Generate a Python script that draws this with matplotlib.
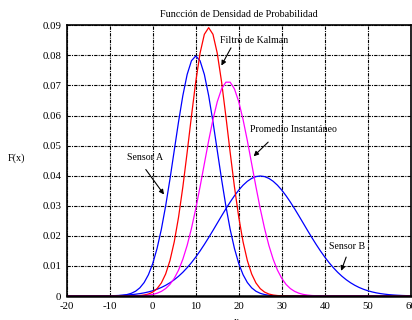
import matplotlib
matplotlib.use("Agg")
import matplotlib.pyplot as plt
import numpy as np

plt.rcParams['font.family'] = ['Liberation Serif', 'DejaVu Serif']

x_vals = list(range(-20, 61))

sensor_a = [0]*9 + [
    0.00001, 0.00003, 0.00006, 0.00012, 0.00025, 0.00048, 0.00089, 0.00158, 0.00272, 0.00448,
    0.00709, 0.01080, 0.01579, 0.02218, 0.02995, 0.03884, 0.04839, 0.05794, 0.06664, 0.07365,
    0.07821, 0.07979, 0.07821, 0.07365, 0.06664, 0.05794, 0.04839, 0.03884, 0.02995, 0.02218,
    0.01579, 0.01080, 0.00709, 0.00448, 0.00272, 0.00158, 0.00089, 0.00048, 0.00025, 0.00012,
    0.00006, 0.00003, 0.00001] + [0]*29

sensor_b = [0, 0, 0,
    0.00001, 0.00001, 0.00001, 0.00002, 0.00003, 0.00004, 0.00006, 0.00009, 0.00012, 0.00017,
    0.00024, 0.00033, 0.00044, 0.00060, 0.00079, 0.00104, 0.00136, 0.00175, 0.00224, 0.00283,
    0.00355, 0.00440, 0.00540, 0.00656, 0.00789, 0.00941, 0.01109, 0.01295, 0.01497, 0.01714,
    0.01942, 0.02178, 0.02420, 0.02661, 0.02897, 0.03123, 0.03332, 0.03521, 0.03683, 0.03814,
    0.03910, 0.03970, 0.03989, 0.03970, 0.03910, 0.03814, 0.03683, 0.03521, 0.03332, 0.03123,
    0.02897, 0.02661, 0.02420, 0.02178, 0.01942, 0.01714, 0.01497, 0.01295, 0.01109, 0.00941,
    0.00789, 0.00656, 0.00540, 0.00440, 0.00355, 0.00283, 0.00224, 0.00175, 0.00136, 0.00104,
    0.00079, 0.00060, 0.00044, 0.00033, 0.00024, 0.00017, 0.00012, 0.00009]

kalman = [0]*14 + [
    0.00001, 0.00003, 0.00007, 0.00015, 0.00032, 0.00066, 0.00130, 0.00244, 0.00433, 0.00732,
    0.01177, 0.01801, 0.02621, 0.03627, 0.04775, 0.05980, 0.07123, 0.08072, 0.08700, 0.08921,
    0.08700, 0.08072, 0.07123, 0.05980, 0.04775, 0.03627, 0.02621, 0.01801, 0.01177, 0.00732,
    0.00433, 0.00244, 0.00130, 0.00066, 0.00032, 0.00015, 0.00007, 0.00003, 0.00001] + [0]*28

promedio = [0]*14 + [
    0.00001, 0.00002, 0.00004, 0.00009, 0.00016, 0.00030, 0.00053, 0.00092, 0.00153, 0.00247,
    0.00386, 0.00586, 0.00860, 0.01223, 0.01684, 0.02246, 0.02902, 0.03630, 0.04398, 0.05162,
    0.05866, 0.06457, 0.06884, 0.07108, 0.07108, 0.06884, 0.06457, 0.05866, 0.05162, 0.04398,
    0.03630, 0.02902, 0.02246, 0.01684, 0.01223, 0.00860, 0.00586, 0.00386, 0.00247, 0.00153,
    0.00092, 0.00053, 0.00030, 0.00016, 0.00009, 0.00004, 0.00002, 0.00001] + [0]*19

x_ticks = [-20, -10, 0, 10, 20, 30, 40, 50, 60]
x_ticklabels = ['-20', '-10', '0', '10', '20', '30', '40', '50', '60']
y_ticks = [0, 0.01, 0.02, 0.03, 0.04, 0.05, 0.06, 0.07, 0.08, 0.09]
y_ticklabels = ['0', '0.01', '0.02', '0.03', '0.04', '0.05', '0.06', '0.07', '0.08', '0.09']

fig = plt.figure(figsize=(4.12, 3.2), dpi=100)
ax = fig.add_axes([0.162, 0.075, 0.835, 0.846])

ax.plot(x_vals, sensor_a, color='#0000ff', lw=0.9)
ax.plot(x_vals, sensor_b, color='#0000ff', lw=0.9)
ax.plot(x_vals, kalman, color='#ff0000', lw=0.9)
ax.plot(x_vals, promedio, color='#ff00ff', lw=0.9)

ax.set_xlim(-20, 60)
ax.set_ylim(0, 0.09)
ax.set_xticks(x_ticks)
ax.set_xticklabels(x_ticklabels)
ax.set_yticks(y_ticks)
ax.set_yticklabels(y_ticklabels)
ax.tick_params(length=0, labelsize=7.8, pad=4)
ax.grid(True, color='black', lw=0.8, linestyle=(0, (3, 1, 1, 1)))
ax.set_axisbelow(True)
for s in ax.spines.values():
    s.set_linewidth(1.2)
ax.spines['bottom'].set_linewidth(1.8)

ax.set_title('Funcción de Densidad de Probabilidad', fontsize=7.3, pad=6)
fig.text(0.040, 0.505, 'F(x)', fontsize=7.3, ha='center', va='center')
fig.text(0.575, -0.005, 'x', fontsize=7.3, ha='center', va='center')

arrowprops = dict(arrowstyle='-|>', color='black', lw=0.8, mutation_scale=7)
ax.text(15.65, 0.0851, 'Filtro de Kalman', fontsize=7.1, ha='left', va='center')
ax.annotate('', xy=(15.65, 0.0758), xytext=(18.5, 0.0833), arrowprops=arrowprops)
ax.text(22.6, 0.0555, 'Promedio Instantáneo', fontsize=7.1, ha='left', va='center')
ax.annotate('', xy=(23.0, 0.0458), xytext=(27.3, 0.0518), arrowprops=arrowprops)
ax.text(-1.8, 0.0459, 'Sensor A', fontsize=7.1, ha='center', va='center')
ax.annotate('', xy=(3.0, 0.033), xytext=(-2.0, 0.0428), arrowprops=arrowprops)
ax.text(45.2, 0.0166, 'Sensor B', fontsize=7.1, ha='center', va='center')
ax.annotate('', xy=(43.6, 0.0075), xytext=(45.2, 0.0138), arrowprops=arrowprops)

fig.savefig('out.png', dpi=100)
